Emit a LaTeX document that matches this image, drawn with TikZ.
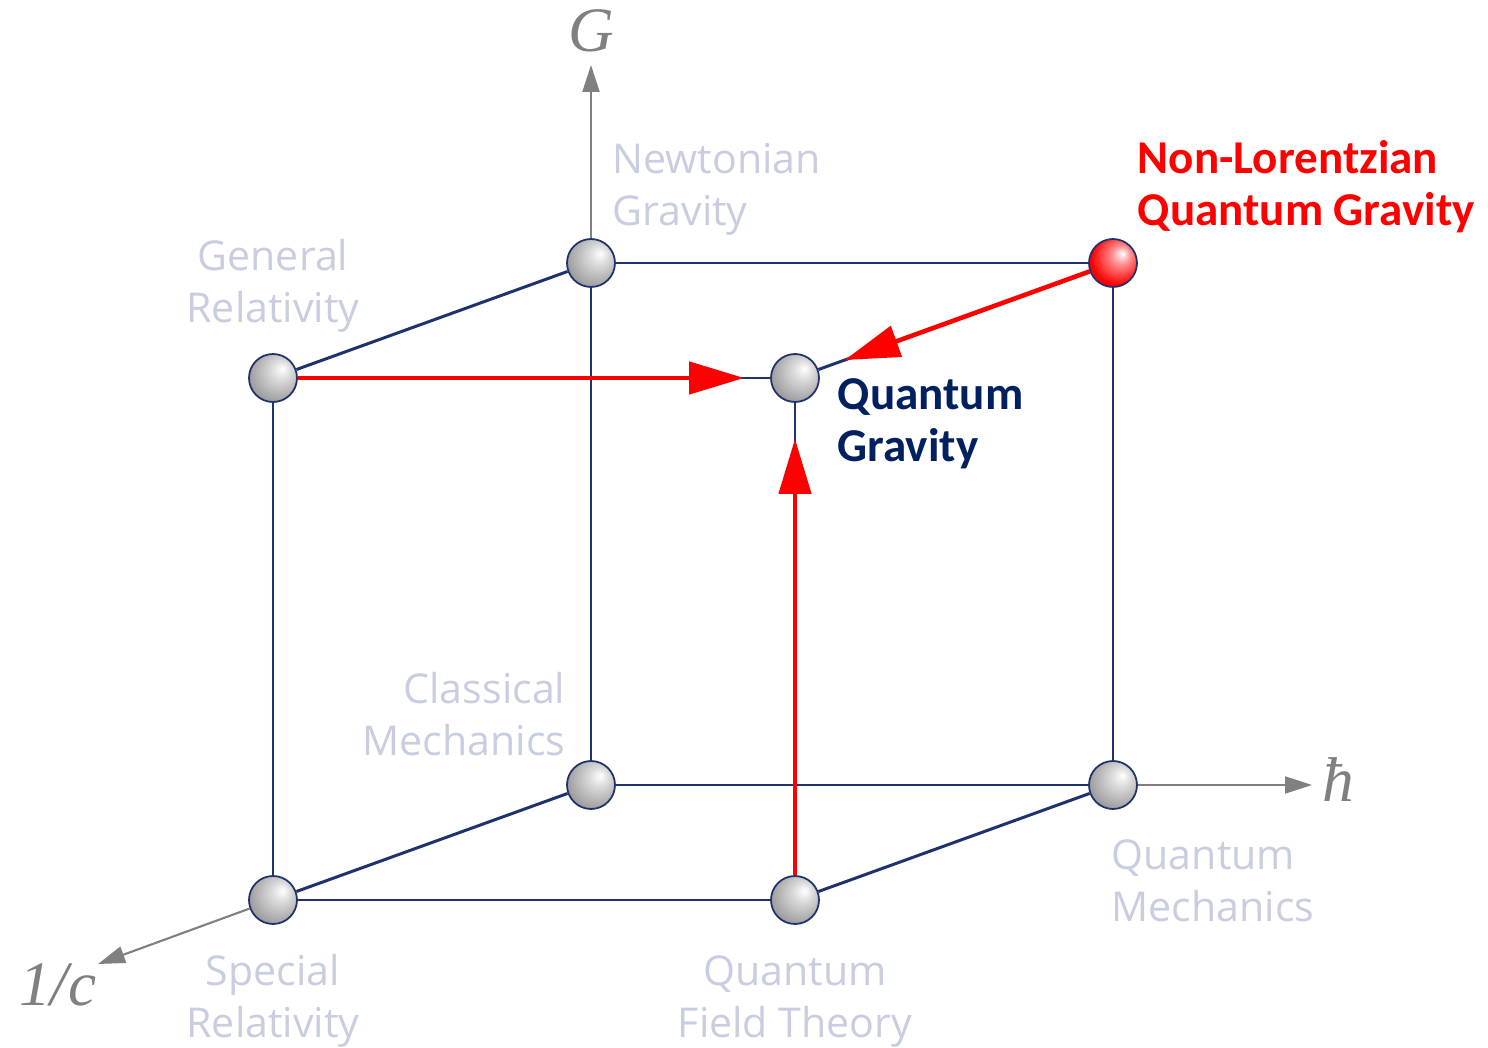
\documentclass[tikz,border=0pt]{standalone}
\usepackage{fontspec}
\usetikzlibrary{arrows.meta}
\newfontfamily\labelfont{Open Sans}
\newfontfamily\boldlabelfont{Carlito}
\newfontfamily\axisfont{Liberation Serif}
\definecolor{edgenavy}{RGB}{30,50,110}
\definecolor{axisgray}{RGB}{128,128,128}
\definecolor{labelgray}{RGB}{200,206,224}
\definecolor{qgnavy}{RGB}{0,32,96}
\definecolor{nlred}{RGB}{255,0,0}
\pgfdeclareradialshading{greysphere}{\pgfpoint{10bp}{10bp}}{%
  color(0bp)=(white); color(10bp)=(black!14); color(30bp)=(black!38);
  color(50bp)=(black!58); color(62bp)=(black!65)}
\pgfdeclareradialshading{redsphere}{\pgfpoint{10bp}{10bp}}{%
  color(0bp)=(white); color(10bp)=(red!45!white); color(28bp)=(red);
  color(50bp)=(red!85!black); color(62bp)=(red!75!black)}

\begin{document}
\begin{tikzpicture}[
  sphere/.style={circle, draw=edgenavy, line width=0.5pt, inner sep=0pt,
    minimum size=4.8mm, shading=greysphere},
  edge/.style={draw=edgenavy, line width=0.85pt},
  redarrow/.style={draw=nlred, line width=1.3pt,
    -{Triangle[length=5.5mm, width=3.2mm]}},
  axis/.style={draw=axisgray, line width=0.6pt,
    -{Triangle[length=2.7mm, width=1.7mm]}},
  axislab/.style={font=\axisfont\itshape\fontsize{18}{20}\selectfont, text=axisgray, inner sep=0pt},
  lab/.style={font=\labelfont\fontsize{11.7}{14.8}\selectfont, text=labelgray, inner sep=0pt},
  boldlab/.style={font=\boldlabelfont\bfseries\fontsize{13.4}{14.8}\selectfont, inner sep=0pt, align=left},
]

  % Cube corners: front face left, back face shifted up-right

  % --- Spheres ---
  \node[sphere] (gr)   at (2.73,-3.78) {};
  \node[sphere] (ng)   at (5.91,-2.63) {};
  \node[sphere, shading=redsphere] (nlqg) at (11.13,-2.63) {};
  \node[sphere] (qg)   at (7.95,-3.78) {};
  \node[sphere] (sr)   at (2.73,-9.00) {};
  \node[sphere] (cm)   at (5.91,-7.85) {};
  \node[sphere] (qm)   at (11.13,-7.85) {};
  \node[sphere] (qft)  at (7.95,-9.00) {};

  % --- Cube edges ---
  \draw[edge] (gr) -- (ng);
  \draw[edge] (ng) -- (nlqg);
  \draw[edge] (nlqg) -- (qm);
  \draw[edge] (ng) -- (cm);
  \draw[edge] (cm) -- (qm);
  \draw[edge] (gr) -- (sr);
  \draw[edge] (sr) -- (qft);
  \draw[edge] (qft) -- (qm);
  \draw[edge] (sr) -- (cm);
  \draw[edge] (gr) -- (qg);
  \draw[edge] (nlqg) -- (qg);
  \draw[edge] (qft) -- (qg);

  % --- Axes ---
  \coordinate (gtip) at (5.91,-0.65);
  \coordinate (htip) at (13.12,-7.85);
  \coordinate (ctip) at (0.98,-9.64);
  \draw[axis] (ng) -- (gtip);
  \draw[axis] (qm) -- (htip);
  \draw[axis] (sr) -- (ctip);
  \node[axislab, anchor=base] (glab) at (5.91,-0.52) {G};
  \node[axislab, anchor=base] (hlab) at (13.38,-8.02) {ħ};
  \node[axislab, anchor=base] (clab) at (0.58,-10.06) {1/c};

  % --- Paths to quantum gravity ---
  \draw[redarrow, shorten >=2.6mm] (gr) -- (qg);
  \draw[redarrow, shorten >=3.6mm] (qft) -- (qg);
  \draw[redarrow, shorten >=2.8mm] (nlqg) -- (qg);

  % --- Labels (anchored at the baseline of the last line) ---
  \node[lab, align=left, anchor=base west] (nglab) at (6.12,-2.26) {Newtonian\\Gravity};
  \node[lab, align=center, anchor=base] (grlab) at (2.73,-3.23) {General\\Relativity};
  \node[lab, align=right, anchor=base east] (cmlab) at (5.66,-7.56) {Classical\\Mechanics};
  \node[lab, align=left, anchor=base west] (qmlab) at (11.11,-9.22) {Quantum\\Mechanics};
  \node[lab, align=center, anchor=base] (srlab) at (2.73,-10.38) {Special\\Relativity};
  \node[lab, align=center, anchor=base] (qftlab) at (7.95,-10.38) {Quantum\\Field Theory};
  \node[boldlab, text=qgnavy, anchor=base west] (qglab) at (8.37,-4.62) {Quantum\\Gravity};
  \node[boldlab, text=nlred, anchor=base west] (nllab) at (11.37,-2.26) {Non-Lorentzian\\Quantum Gravity};

  \path[use as bounding box] (0,0) rectangle (14.88,-10.48);

\end{tikzpicture}
\end{document}
